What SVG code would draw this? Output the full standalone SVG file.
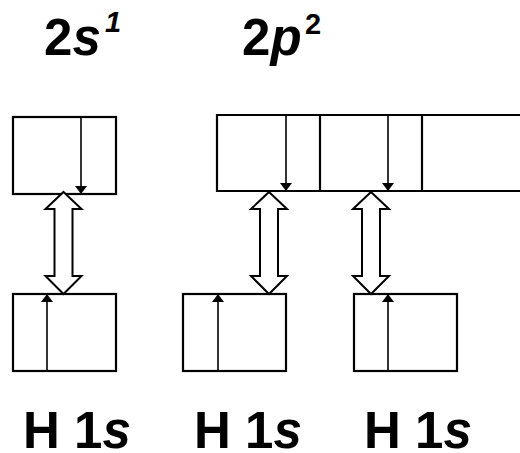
<svg xmlns="http://www.w3.org/2000/svg" width="520" height="453" viewBox="0 0 520 453">
  <style>
    .box { fill: none; stroke: #000; stroke-width: 2.2; }
    .spin { stroke: #000; stroke-width: 1.6; fill: none; }
    .dbl { fill: #fff; stroke: #000; stroke-width: 2; stroke-linejoin: miter; }
    .lbl { font-family: "Liberation Sans", Arial, sans-serif; font-weight: bold; font-size: 51px; fill: #000; }
    .sup { font-size: 29px; }
  </style>
  <defs>
    <marker id="head" viewBox="0 0 8 12" refX="8" refY="6" markerWidth="8" markerHeight="12" markerUnits="userSpaceOnUse" orient="auto">
      <path d="M0,0 L8,6 L0,12 z" fill="#000"/>
    </marker>
  </defs>

  <!-- orbital labels -->
  <g id="label-2s">
    <text class="lbl" x="44" y="55">2<tspan font-style="italic">s</tspan></text>
    <text class="lbl sup" x="105" y="32" font-style="italic">1</text>
  </g>
  <g id="label-2p">
    <text class="lbl" x="242" y="55">2<tspan font-style="italic">p</tspan></text>
    <text class="lbl sup" x="305" y="34">2</text>
  </g>

  <!-- carbon 2s box -->
  <g id="c-2s">
    <rect class="box" x="13" y="117" width="103" height="77"/>
    <line class="spin" x1="81" y1="117" x2="81" y2="194" marker-end="url(#head)"/>
  </g>

  <!-- carbon 2p boxes -->
  <g id="c-2p">
    <path class="box" d="M523,115 H217 V191 H523"/>
    <line class="box" x1="320" y1="115" x2="320" y2="191"/>
    <line class="box" x1="422" y1="115" x2="422" y2="191"/>
    <line class="spin" x1="286" y1="115" x2="286" y2="191" marker-end="url(#head)"/>
    <line class="spin" x1="388" y1="115" x2="388" y2="191" marker-end="url(#head)"/>
  </g>

  <!-- hydrogen 1s boxes -->
  <g id="h1">
    <rect class="box" x="13" y="294" width="103" height="77"/>
    <line class="spin" x1="47" y1="371" x2="47" y2="294" marker-end="url(#head)"/>
    <text class="lbl" x="23" y="448">H 1<tspan font-style="italic">s</tspan></text>
  </g>
  <g id="h2">
    <rect class="box" x="183" y="294" width="103" height="77"/>
    <line class="spin" x1="218" y1="371" x2="218" y2="294" marker-end="url(#head)"/>
    <text class="lbl" x="194" y="448">H 1<tspan font-style="italic">s</tspan></text>
  </g>
  <g id="h3">
    <rect class="box" x="354" y="294" width="103" height="77"/>
    <line class="spin" x1="388" y1="371" x2="388" y2="294" marker-end="url(#head)"/>
    <text class="lbl" x="364" y="448">H 1<tspan font-style="italic">s</tspan></text>
  </g>

  <!-- overlap connectors -->
  <g id="connectors">
    <polygon class="dbl" points="63.5,192 81.5,209 72.5,209 72.5,276 81.5,276 63.5,294 45.5,276 54.5,276 54.5,209 45.5,209"/>
    <polygon class="dbl" points="269,192 287,209 278,209 278,276 287,276 269,294 251,276 260,276 260,209 251,209"/>
    <polygon class="dbl" points="371,192 389,209 380,209 380,276 389,276 371,294 353,276 362,276 362,209 353,209"/>
  </g>
</svg>
